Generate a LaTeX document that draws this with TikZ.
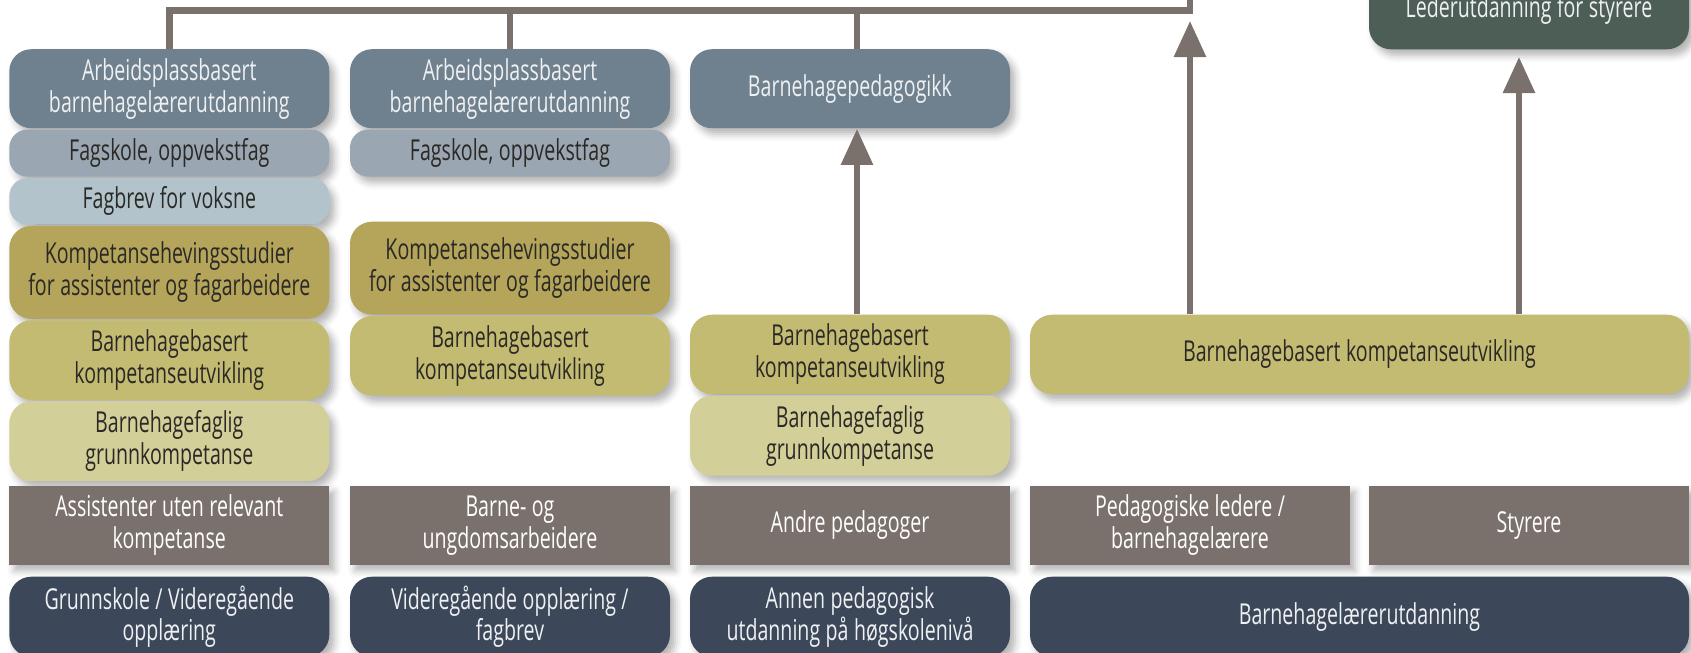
\documentclass[tikz,border=0pt]{standalone}
\usepackage{xcolor}
\usepackage{fontspec}
\setmainfont{Open Sans}[FakeStretch=0.68]
\usepackage{tikz}
\usetikzlibrary{positioning,arrows.meta,shadows.blur}

\definecolor{slate}{HTML}{6F808E}
\definecolor{fagskole}{HTML}{9AA6B1}
\definecolor{fagbrev}{HTML}{B2C3CC}
\definecolor{kompgold}{HTML}{B4A55A}
\definecolor{bhbolive}{HTML}{C4BB73}
\definecolor{bhfpale}{HTML}{D3CF99}
\definecolor{taupe}{HTML}{7B716C}
\definecolor{navy}{HTML}{3C4859}
\definecolor{leadgreen}{HTML}{4D5E56}
\definecolor{darktext}{HTML}{2A2926}
\definecolor{lighttext}{HTML}{EEF0F2}

\begin{document}
\begin{tikzpicture}[
				x=1mm, y=1mm,
				basebox/.style={rectangle, rounded corners=2.2mm, align=center, inner sep=0pt, text width=31mm, minimum width=32mm, minimum height=7.9mm, font=\fontsize{8.2}{9.1}\selectfont, execute at begin node={\spaceskip=0.19em\relax}, blur shadow={shadow xshift=0.5mm, shadow yshift=-0.6mm, shadow blur radius=0.7mm, shadow opacity=30}},
				slatebox/.style={basebox, fill=slate, text=lighttext},
				fagbox/.style={basebox, fill=fagskole, text=darktext, minimum height=4.7mm, rounded corners=1.8mm},
				brevbox/.style={basebox, fill=fagbrev, text=darktext, minimum height=4.65mm, rounded corners=1.8mm},
				kompbox/.style={basebox, fill=kompgold, text=darktext, minimum height=9.3mm},
				bhbbox/.style={basebox, fill=bhbolive, text=darktext, minimum height=7.95mm},
				bhfbox/.style={basebox, fill=bhfpale, text=darktext, minimum height=8mm},
				groupbox/.style={basebox, rounded corners=0pt, fill=taupe, text=white},
				utdbox/.style={basebox, fill=navy, text=lighttext, minimum height=8mm},
				leadbox/.style={basebox, fill=leadgreen, text=lighttext},
				conn/.style={draw=taupe, line width=0.65mm},
				arr/.style={draw=taupe, line width=0.6mm, -{Triangle[length=3.6mm, width=3.1mm]}},
				node distance = 0mm,
				]
				\clip (0,0) rectangle (169.1,-65.2);
				\useasboundingbox (0,0) rectangle (169.1,-65.2);
				
				%Nodes
				\node[slatebox, anchor=north](arb1) at (16.93,-4.85){Arbeidsplassbasert\\barnehagelærerutdanning};
				\node[fagbox](fag1)[below=of arb1]{Fagskole, oppvekstfag};
				\node[brevbox](brev1)[below=of fag1]{Fagbrev for voksne};
				\node[kompbox](komp1)[below=of brev1]{Kompetansehevingsstudier\\for assistenter og fagarbeidere};
				\node[bhbbox](bhb1)[below=of komp1]{Barnehagebasert\\kompetanseutvikling};
				\node[bhfbox](bhf1)[below=of bhb1]{Barnehagefaglig\\grunnkompetanse};
				
				\node[slatebox, anchor=north](arb2) at (51.0,-4.85){Arbeidsplassbasert\\barnehagelærerutdanning};
				\node[fagbox](fag2)[below=of arb2]{Fagskole, oppvekstfag};
				\node[kompbox, anchor=north](komp2) at (51.0,-22.1){Kompetansehevingsstudier\\for assistenter og fagarbeidere};
				\node[bhbbox](bhb2)[below=of komp2]{Barnehagebasert\\kompetanseutvikling};
				
				\node[slatebox, anchor=north](ped) at (85.0,-4.85){Barnehagepedagogikk};
				\node[bhbbox, anchor=north](bhb3) at (85.0,-31.4){Barnehagebasert\\kompetanseutvikling};
				\node[bhfbox](bhf3)[below=of bhb3]{Barnehagefaglig\\grunnkompetanse};
				
				\node[bhbbox, anchor=north, minimum width=65.9mm, text width=60mm](bhb4) at (135.95,-31.4){Barnehagebasert kompetanseutvikling};
				\node[leadbox, anchor=south](lead) at (152.9,-5.0){Lederutdanning for styrere};
				
				\node[groupbox, anchor=north](grp1) at (16.93,-48.5){Assistenter uten relevant\\kompetanse};
				\node[groupbox, anchor=north](grp2) at (51.0,-48.5){Barne- og\\ungdomsarbeidere};
				\node[groupbox, anchor=north](grp3) at (85.0,-48.5){Andre pedagoger};
				\node[groupbox, anchor=north](grp4) at (119.0,-48.5){Pedagogiske ledere /\\barnehagelærere};
				\node[groupbox, anchor=north](grp5) at (152.9,-48.5){Styrere};
				
				\node[utdbox, anchor=north](utd1) at (16.93,-57.6){Grunnskole / Videregående\\opplæring};
				\node[utdbox, anchor=north](utd2) at (51.0,-57.6){Videregående opplæring /\\fagbrev};
				\node[utdbox, anchor=north](utd3) at (85.0,-57.6){Annen pedagogisk\\utdanning på høgskolenivå};
				\node[utdbox, anchor=north, minimum width=65.9mm, text width=60mm](utd4) at (135.95,-57.6){Barnehagelærerutdanning};
				
				\coordinate (topR) at (119.0,-1.05);
				\coordinate (topout) at (119.0,1);
				\coordinate (tiptop) at (119.0,-2.1);
				
				%Lines
				\draw[conn] (arb1.north) |- (topR) -- (topout);
				\draw[conn] (arb2.north) -- (arb2.north |- topR);
				\draw[conn] ([xshift=0.7mm]ped.north) -- ([xshift=0.7mm]ped.north |- topR);
				
				\draw[arr] ([xshift=0.7mm]bhb3.north) -- ([xshift=0.7mm]ped.south);
				\draw[arr] (bhb4.north -| tiptop) -- (tiptop);
				\draw[arr, shorten >=0.7mm] ([xshift=-1mm]bhb4.north -| lead.south) -- ([xshift=-1mm]lead.south);
				
			\end{tikzpicture}
\end{document}
